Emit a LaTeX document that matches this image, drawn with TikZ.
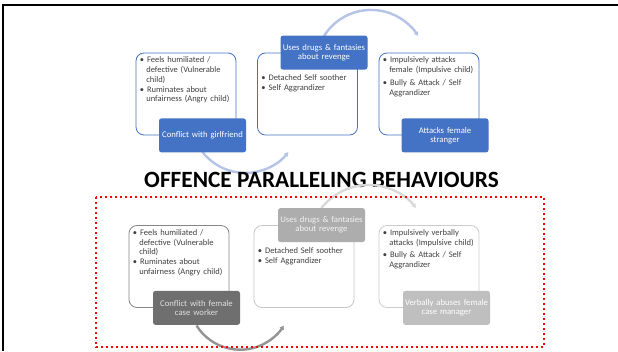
\documentclass[tikz,border=0pt]{standalone}
\usepackage{fontspec}
\setmainfont{Carlito}
\usetikzlibrary{positioning,arrows.meta}

\definecolor{smblue}{HTML}{4472C4}
\definecolor{arcblue}{HTML}{B4C3E6}
\definecolor{notegray}{HTML}{404040}
\definecolor{darkgray}{HTML}{6F6F6F}
\definecolor{midgray}{HTML}{ADADAD}
\definecolor{lightgray}{HTML}{BFBFBF}
\definecolor{dotred}{HTML}{FF0000}

\newcommand{\bl}{\textbullet\hspace{3pt}}
\newcommand{\ind}{\hspace*{6.5pt}}

\begin{document}
\begin{tikzpicture}[x=1pt,y=1pt,
    card/.style={draw=smblue, line width=0.8pt, rounded corners=8pt, fill=white,
      minimum width=100pt, minimum height=82pt, inner sep=0pt},
    tag/.style={fill=smblue, rounded corners=2.5pt, minimum width=87pt, minimum height=34pt,
      text width=86pt, align=center, text=white, inner sep=0.5pt,
      font=\fontsize{8.7}{9}\selectfont},
    notes/.style={anchor=north west, text width=98pt, align=left, inner sep=0pt,
      text=notegray, font=\fontsize{8.5}{9.8}\selectfont},
    loop/.style={line width=2.4pt, -{Latex[length=4pt,width=5.5pt]}},
  ]
  \useasboundingbox (0,0) rectangle (618,351);

  % frame
  \draw[line width=2.5pt] (3,0) -- (3,346) -- (618,346);

  % top row: the offence
  \node[card] (feelsA) at (186,257) {};
  \node[card] (soothA) at (307.5,257) {};
  \node[card] (bullyA) at (429,257) {};

  \draw[loop, arcblue] (324,315) arc[start angle=148, end angle=32, radius=55.5];
  \draw[loop, arcblue] (202.5,199) arc[start angle=218, end angle=322, radius=54.5];

  \node[tag] (girlA)   at ([xshift=16.5pt]feelsA.south) {Conflict with girlfriend};
  \node[tag] (drugsA)  at ([xshift=16.5pt]soothA.north) {Uses drugs \& fantasies\\about revenge};
  \node[tag] (attackA) at ([xshift=16pt]bullyA.south) {Attacks female\\stranger};

  \node[notes] (feelsAtxt) at ([xshift=4pt,yshift=-4pt]feelsA.north west)
    {\bl Feels humiliated /\\\ind defective (Vulnerable\\\ind child)\\\bl Ruminates about\\\ind unfairness (Angry child)};
  \node[notes] (soothAtxt) at ([xshift=4pt,yshift=-22pt]soothA.north west)
    {\bl Detached Self soother\\\bl Self Aggrandizer};
  \node[notes] (bullyAtxt) at ([xshift=4pt,yshift=-4pt]bullyA.north west)
    {\bl Impulsively attacks\\\ind female (Impulsive child)\\[3pt]\bl Bully \& Attack / Self\\\ind Aggrandizer};

  % title
  \node (title) at (321.5,171) {\fontsize{23.3}{27}\selectfont\bfseries OFFENCE PARALLELING BEHAVIOURS};

  % bottom row: the parallel in treatment
  \node[card, draw=gray!95] (feelsB) at (179,84.5) {};
  \node[card, draw=gray!45] (soothB) at (304,84.5) {};
  \node[card, draw=gray!40] (bullyB) at (429,84.5) {};

  \draw[loop, gray!85] (196.5,25.5) arc[start angle=212, end angle=328, radius=51.5];
  \draw[loop, gray!30] (321.5,143) arc[start angle=142, end angle=38, radius=60];

  \node[tag, fill=darkgray, text=white!88!black] (workerB) at ([xshift=17.5pt]feelsB.south) {Conflict with female\\case worker};
  \node[tag, fill=midgray, text=white!95!black] (drugsB) at ([xshift=17.5pt]soothB.north) {Uses drugs \& fantasies\\about revenge};
  \node[tag, fill=lightgray] (abuseB) at ([xshift=17.5pt]bullyB.south) {Verbally abuses female\\case manager};

  \node[notes] (feelsBtxt) at ([xshift=4pt,yshift=-4pt]feelsB.north west)
    {\bl Feels humiliated /\\\ind defective (Vulnerable\\\ind child)\\\bl Ruminates about\\\ind unfairness (Angry child)};
  \node[notes] (soothBtxt) at ([xshift=4pt,yshift=-22pt]soothB.north west)
    {\bl Detached Self soother\\\bl Self Aggrandizer};
  \node[notes] (bullyBtxt) at ([xshift=4pt,yshift=-4pt]bullyB.north west)
    {\bl Impulsively verbally\\\ind attacks (Impulsive child)\\[3pt]\bl Bully \& Attack / Self\\\ind Aggrandizer};

  % red dotted frame round the bottom row
  \draw[dotred, line width=2.4pt, dash pattern=on 2.4pt off 2.6pt] (96,154) rectangle (544,4);
\end{tikzpicture}
\end{document}
